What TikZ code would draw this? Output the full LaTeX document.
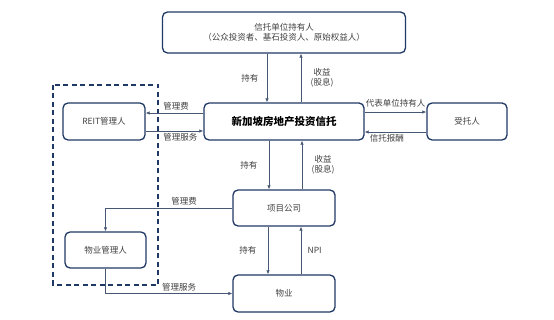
\documentclass[tikz,border=0pt]{standalone}
\usepackage{fontspec}
\setmainfont{Noto Sans CJK SC}
\usetikzlibrary{positioning,arrows.meta,calc}
\definecolor{boxblue}{RGB}{31,56,100}
\definecolor{lineblue}{RGB}{70,88,115}
\definecolor{txtgray}{RGB}{64,64,64}

\begin{document}
\begin{tikzpicture}[
  x=1pt, y=-1pt,
  font=\fontsize{8.5}{10}\selectfont,
  >={Latex[length=4pt,width=3.5pt]},
  blk/.style={draw=boxblue, line width=1.3pt, rounded corners=5pt, align=center,
              inner sep=3pt, text=txtgray, minimum height=37pt},
  ar/.style={->, draw=lineblue, line width=0.7pt},
  lbl/.style={text=txtgray, font=\fontsize{8.5}{10}\selectfont, align=center},
]
  \useasboundingbox (0,0) rectangle (554,320);

  % grouping frame
  \draw[boxblue, line width=1.1pt, dash pattern=on 5pt off 3.5pt] (53,85) rectangle (158,285);

  % holders and trust
  \node[blk, minimum width=243pt, minimum height=41pt] (hold) at (284,32.5)
        {信托单位持有人\\（公众投资者、基石投资人、原始权益人）};
  \node[blk, minimum width=160pt, text=black,
        font=\fontsize{10.5}{12}\selectfont\bfseries] (reit) at (284,121.5)
        {新加坡房地产投资信托};
  \node[blk, minimum width=80pt] (trustee) at (467,121.5) {受托人};
  \node[blk, minimum width=82pt] (mgr) at (104,121.5) {REIT管理人};

  % lower level
  \node[blk, minimum width=102pt, minimum height=36pt] (spv) at (284,208) {项目公司};
  \node[blk, minimum width=102pt] (prop) at (284,293.5) {物业};
  \node[blk, minimum width=81pt, minimum height=36pt] (pmgr) at (105.5,250) {物业管理人};

  % holders <-> trust
  \draw[ar] ([xshift=-17]hold.south) -- node[lbl, left=5pt]{持有} ([xshift=-17]reit.north);
  \draw[ar] ([xshift=17]reit.north) -- node[lbl, right=6pt]{收益\\(股息)} ([xshift=17]hold.south);

  % manager and trustee
  \draw[ar] ([yshift=8.5]reit.west) -- node[lbl, above=-1pt, pos=0.47]{管理费} ([yshift=8.5]mgr.east);
  \draw[ar] ([yshift=-9.5]mgr.east) -- node[lbl, below=-1pt, pos=0.6]{管理服务} ([yshift=-9.5]reit.west);
  \draw[ar] ([yshift=9.5]reit.east) -- node[lbl, above=1pt]{代表单位持有人} ([yshift=9.5]trustee.west);
  \draw[ar] ([yshift=-10.5]trustee.west) -- node[lbl, below=-1pt, pos=0.64]{信托报酬} ([yshift=-10.5]reit.east);

  % trust <-> project company
  \draw[ar] ([xshift=-15]reit.south) -- node[lbl, left=8pt]{持有} ([xshift=-15]spv.north);
  \draw[ar] ([xshift=18]spv.north) -- node[lbl, right=6pt]{收益\\(股息)} ([xshift=18]reit.south);

  % project company <-> property
  \draw[ar] ([xshift=-16]spv.south) -- node[lbl, left=8pt]{持有} ([xshift=-16]prop.north);
  \draw[ar] ([xshift=17]prop.north) -- node[lbl, right=3pt]{NPI} ([xshift=17]spv.south);

  % property manager
  \draw[ar] (spv.west) -| node[lbl, above=-1pt, pos=0.19]{管理费} (pmgr.north);
  \draw[ar] (pmgr.south) |- node[lbl, above=-1pt, pos=0.79]{管理服务} (prop.west);
\end{tikzpicture}
\end{document}
